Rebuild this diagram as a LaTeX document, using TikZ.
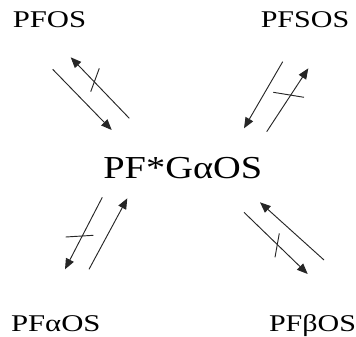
\documentclass[tikz,border=0pt]{standalone}
\usepackage{fontspec}
\setmainfont{Liberation Serif}
\usetikzlibrary{arrows.meta}
\newcommand{\widen}[2]{\scalebox{#1}[1]{#2}}

\begin{document}
\begin{tikzpicture}[x=0.75pt, y=-0.75pt,
  species/.style={anchor=base, inner sep=0pt, font=\fontsize{18}{21}\selectfont},
  hub/.style={anchor=base, inner sep=0pt, font=\fontsize{24}{28}\selectfont},
  rxn/.style={draw=black!85, line width=0.7pt, -{Triangle[length=8pt,width=6.5pt]}},
  block/.style={draw=black!85, line width=0.7pt}]
  \useasboundingbox (0,0) rectangle (356,336);

  % species
  \node[species] (pfos)  at (49.5,27.3)  {\widen{1.28}{PFOS}};
  \node[species] (pfsos) at (305,27.3)   {\widen{1.25}{PFSOS}};
  \node[hub]     (pfg)   at (182.8,178.3) {\widen{1.2}{PF*GαOS}};
  \node[species] (pfa)   at (55.8,331.5) {\widen{1.28}{PFαOS}};
  \node[species] (pfb)   at (312.5,331.5) {\widen{1.25}{PFβOS}};

  % arrow ends
  \coordinate (tlA1) at (52.7,69.3);  \coordinate (tlA2) at (111.7,130);
  \coordinate (tlB1) at (129.3,118.3); \coordinate (tlB2) at (70.7,57.3);
  \coordinate (tlX1) at (90.7,91.7);  \coordinate (tlX2) at (99.3,68.3);
  \coordinate (trA1) at (282.7,61.7); \coordinate (trA2) at (244,128.3);
  \coordinate (trB1) at (266.7,131.7); \coordinate (trB2) at (308.3,68.3);
  \coordinate (trX1) at (273.3,92.3); \coordinate (trX2) at (304,97.3);
  \coordinate (brA1) at (324,260);    \coordinate (brA2) at (260,202.3);
  \coordinate (brB1) at (244,212.3);  \coordinate (brB2) at (307.7,274);
  \coordinate (brX1) at (275,257.3);  \coordinate (brX2) at (279.3,233.3);
  \coordinate (blA1) at (102.3,197.3); \coordinate (blA2) at (65,269.3);
  \coordinate (blB1) at (89,269.3);   \coordinate (blB2) at (127.3,198.3);
  \coordinate (blX1) at (65.7,237);   \coordinate (blX2) at (93.3,235.3);

  % reactions
  \foreach \c in {tl,tr,br,bl} {
    \draw[rxn] (\c A1) -- (\c A2);
    \draw[rxn] (\c B1) -- (\c B2);
    \draw[block] (\c X1) -- (\c X2);
  }
\end{tikzpicture}
\end{document}
